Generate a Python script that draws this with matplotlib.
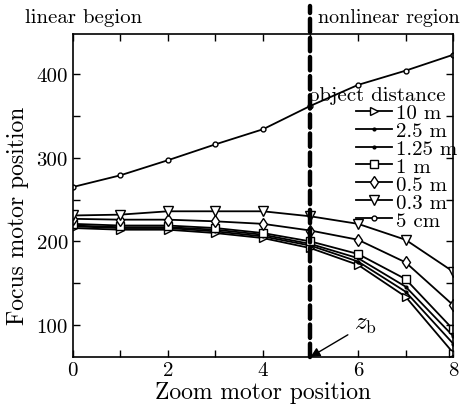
import numpy as np
import matplotlib
matplotlib.use("Agg")
import matplotlib.pyplot as plt
from matplotlib.ticker import MultipleLocator, FuncFormatter

plt.rcParams["font.family"] = ["cmr10", "DejaVu Serif"]
plt.rcParams["mathtext.fontset"] = "cm"
plt.rcParams["axes.formatter.use_mathtext"] = True

zoom = [0, 1, 2, 3, 4, 5, 6, 7, 8]

labels = ["10 m", "2.5 m", "1.25 m", "1 m", "0.5 m", "0.3 m", "5 cm"]
d_10m = [216, 214, 214, 210, 204, 192, 172, 134, 67]
d_2p5m = [218, 216, 216, 212, 206, 195, 176, 140, 78]
d_1p25m = [219, 217, 217, 214, 208, 197, 180, 146, 87]
d_1m = [221, 219, 219, 216, 210, 200, 185, 155, 95]
d_0p5m = [227, 226, 226, 224, 221, 213, 202, 175, 124]
d_0p3m = [231, 232, 236, 236, 236, 230, 221, 202, 164]
d_5cm = [265, 279, 297, 316, 334, 362, 387, 404, 423]
series = [d_10m, d_2p5m, d_1p25m, d_1m, d_0p5m, d_0p3m, d_5cm]

markers = [">", ".", ".", "s", "d", "v", "o"]
msizes = [6, 4, 4, 6, 6, 7, 3.5]

z_break = 5

fig = plt.figure(figsize=(4.7, 4.1), dpi=100)
ax = fig.add_axes([0.155, 0.127, 0.809, 0.788])

handles = []
for y, lab, m, ms in zip(series, labels, markers, msizes):
    h, = ax.plot(zoom, y, color="black", lw=1.3, marker=m, ms=ms,
                 mfc="white" if m != "." else "black", mec="black", mew=1.0,
                 label=lab)
    handles.append(h)

ax.axvline(z_break, ymin=0, ymax=1.085, clip_on=False, color="black", lw=3.2,
           linestyle=(0, (3.0, 1.3)), dash_capstyle="round")

ax.set_xlim(0, 8)
ax.set_ylim(62, 448)
ax.xaxis.set_major_locator(MultipleLocator(1))
ax.xaxis.set_major_formatter(FuncFormatter(lambda v, p: f"{int(v)}" if int(v) % 2 == 0 else ""))
ax.yaxis.set_major_locator(MultipleLocator(50))
ax.yaxis.set_major_formatter(FuncFormatter(lambda v, p: f"{int(v)}" if int(v) % 100 == 0 else ""))
ax.tick_params(direction="in", top=True, right=True, length=5, width=1, labelsize=15)
ax.tick_params(axis="x", pad=3)
for s in ax.spines.values():
    s.set_linewidth(1.2)

ax.set_xlabel("Zoom motor position", fontsize=17, labelpad=1)
ax.set_ylabel("Focus motor position", fontsize=17)
ax.yaxis.set_label_coords(-0.115, 0.44)

fig.text(25 / 470, 1 - 18 / 410, "linear begion", fontsize=15, va="center", ha="left")
fig.text(318 / 470, 1 - 18 / 410, "nonlinear region", fontsize=14.5, va="center", ha="left")

ax.text(0.62, 0.81, "object distance", transform=ax.transAxes, fontsize=15,
        ha="left", va="center")
leg = ax.legend(handles=handles, loc="upper left", bbox_to_anchor=(0.745, 0.785),
                frameon=False, fontsize=15, handlelength=1.7, handletextpad=0.2,
                labelspacing=-0.03, borderaxespad=0, borderpad=0)

ax.annotate(r"$z_{\rm b}$", xy=(z_break, 62), xytext=(5.92, 101), fontsize=18,
            ha="left", va="center",
            arrowprops=dict(arrowstyle="-|>", color="black", lw=1, shrinkA=3, shrinkB=0,
                            mutation_scale=14))

fig.savefig("out.png", dpi=100)
